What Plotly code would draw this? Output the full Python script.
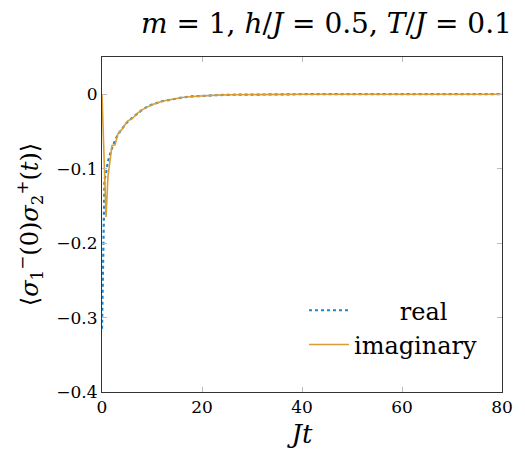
import plotly.graph_objects as go

# Data
t_real = [0, 0.5, 0.85, 1.2, 1.85, 2.8, 3.8, 5, 6, 7, 8, 9, 10, 12, 14, 16, 18, 20, 23, 26, 30, 35, 40, 50, 60, 70, 80]
v_real = [-0.315, -0.115, -0.104, -0.09, -0.075, -0.059, -0.048, -0.038, -0.032, -0.026, -0.021, -0.017, -0.014,
          -0.0095, -0.0066, -0.0045, -0.003, -0.002, -0.0012, -0.0007, -0.0003, -0.0001, 0, 0, 0, 0, 0]

t_imag = [0, 0.8, 1.2, 2.0, 2.6, 3.2, 4.1, 5.1, 6.1, 7, 8, 9, 10, 12, 14, 16, 18, 20, 23, 26, 30, 35, 40, 50, 60, 70, 80]
v_imag = [0, -0.165, -0.11, -0.069, -0.068, -0.053, -0.046, -0.036, -0.0325, -0.026, -0.021, -0.017, -0.014,
          -0.0095, -0.0066, -0.0045, -0.003, -0.002, -0.0012, -0.0007, -0.0003, -0.0001, 0, 0, 0, 0, 0]

x_ticks = [0, 20, 40, 60, 80]
y_ticks = [-0.4, -0.3, -0.2, -0.1, 0]

SERIF = "'DejaVu Serif', serif"

fig = go.Figure()
fig.add_trace(go.Scatter(
    x=t_real, y=v_real, mode="lines",
    name="\u00a0\u00a0\u00a0\u00a0\u00a0\u00a0real",
    line=dict(color="#1f86c8", width=2.2, dash="dot"),
))
fig.add_trace(go.Scatter(
    x=t_imag, y=v_imag, mode="lines",
    name="imaginary",
    line=dict(color="#dc9c35", width=1.6),
))

fig.update_layout(
    width=525, height=456,
    margin=dict(l=102, r=18, t=57, b=63),
    paper_bgcolor="white", plot_bgcolor="white",
    font=dict(family=SERIF, color="black"),
    showlegend=True,
    legend=dict(
        x=0.505, y=0.31, xanchor="left", yanchor="top",
        bgcolor="rgba(255,255,255,0)", borderwidth=0,
        font=dict(family=SERIF, size=24),
        itemwidth=40, tracegroupgap=0,
    ),
    title=dict(
        text="<i>m</i> = 1, <i>h</i>/<i>J</i> = 0.5, <i>T</i>/<i>J</i> = 0.1",
        x=0.975, xanchor="right", y=0.95, yanchor="middle",
        font=dict(family=SERIF, size=28),
    ),
)

fig.update_xaxes(
    range=[0, 80], tickvals=x_ticks, ticktext=[str(v) for v in x_ticks],
    ticks="inside", ticklen=5, tickcolor="#bbbbbb", tickwidth=1,
    showline=True, linecolor="#333333", linewidth=1, mirror="ticks",
    showgrid=False, zeroline=False,
    tickfont=dict(family=SERIF, size=17),
    title=dict(text="<i>Jt</i>", font=dict(family=SERIF, size=26), standoff=8),
)
fig.update_yaxes(
    range=[-0.4, 0.05], tickvals=y_ticks,
    ticktext=["\u22120.4", "\u22120.3", "\u22120.2", "\u22120.1", "0"],
    ticks="inside", ticklen=5, tickcolor="#bbbbbb", tickwidth=1,
    showline=True, linecolor="#333333", linewidth=1, mirror="ticks",
    showgrid=False, zeroline=False,
    tickfont=dict(family=SERIF, size=17),
    title=dict(
        text="\u27e8<i>\u03c3</i><sub>1</sub><sup>\u2212</sup>(0)<i>\u03c3</i><sub>2</sub><sup>+</sup>(<i>t</i>)\u27e9",
        font=dict(family=SERIF, size=24), standoff=10,
    ),
)

fig.write_html("out.html")
